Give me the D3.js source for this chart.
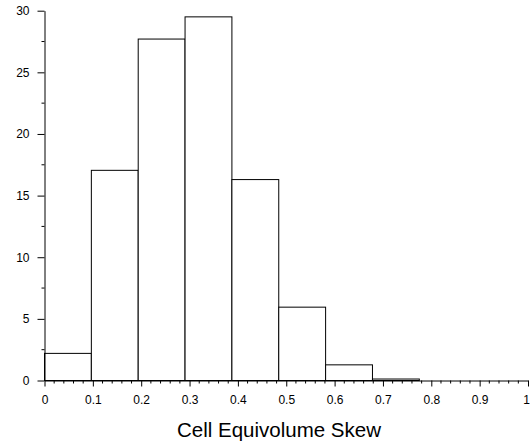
<!DOCTYPE html>
<html>
<head>
<meta charset="utf-8">
<script src="https://d3js.org/d3.v7.min.js"></script>
<style>
  body { margin: 0; background: #fff; }
  text { font-family: "Liberation Sans", Arial, sans-serif; fill: #000; }
</style>
</head>
<body>
<script>
// histogram bins (left/right edges) and counts
var binStart = [0, 0.0969, 0.1938, 0.2907, 0.3876, 0.4845, 0.5814, 0.6783, 0.7752, 0.8721];
var binEnd   = [0.0969, 0.1938, 0.2907, 0.3876, 0.4845, 0.5814, 0.6783, 0.7752, 0.8721, 0.969];
var counts   = [2.2, 17.05, 27.7, 29.5, 16.3, 5.95, 1.27, 0.12, 0, 0];
var xTicks = [0, 0.1, 0.2, 0.3, 0.4, 0.5, 0.6, 0.7, 0.8, 0.9, 1];
var yTicks = [0, 5, 10, 15, 20, 25, 30];
var xLabel = "Cell Equivolume Skew";

var W = 530, H = 445;
var svg = d3.select("body").append("svg")
  .attr("width", W).attr("height", H);

var x = d3.scaleLinear().domain([0, 1]).range([44.5, 528]);
var y = d3.scaleLinear().domain([0, 30]).range([380.5, 10.7]);

// bars
var bins = counts.map(function (c, i) { return { x0: binStart[i], x1: binEnd[i], v: c }; })
  .filter(function (d) { return d.v > 0; });

svg.selectAll("rect.bar")
  .data(bins)
  .enter().append("rect")
  .attr("class", "bar")
  .attr("x", function (d) { return x(d.x0); })
  .attr("width", function (d) { return x(d.x1) - x(d.x0); })
  .attr("y", function (d) { return y(d.v); })
  .attr("height", function (d) { return y(0) - y(d.v); })
  .attr("fill", "#fff")
  .attr("stroke", "#000")
  .attr("stroke-width", 1);

// y axis
var yAxis = svg.append("g")
  .attr("transform", "translate(" + x(0) + ",0)")
  .call(d3.axisLeft(y).tickValues(yTicks).tickSize(7).tickPadding(8).tickSizeOuter(0));
yAxis.append("g").selectAll("line")
  .data(d3.range(2.5, 30, 5))
  .enter().append("line")
  .attr("x1", -3).attr("x2", 0)
  .attr("y1", function (d) { return y(d); }).attr("y2", function (d) { return y(d); })
  .attr("stroke", "#000");

// x axis
var xAxis = svg.append("g")
  .attr("transform", "translate(0," + y(0) + ")")
  .call(d3.axisBottom(x).tickValues(xTicks).tickFormat(d3.format("~g")).tickSize(6).tickPadding(9).tickSizeOuter(0));
xAxis.append("g").selectAll("line")
  .data(d3.range(0, 100, 2).filter(function (d) { return d % 10 !== 0; }).map(function (d) { return d / 100; }))
  .enter().append("line")
  .attr("y1", 0).attr("y2", 3)
  .attr("x1", function (d) { return x(d); }).attr("x2", function (d) { return x(d); })
  .attr("stroke", "#000");
// keep the last label inside the window
xAxis.selectAll(".tick text").filter(function (d) { return d === 1; }).attr("dx", -2);

svg.selectAll(".domain, .tick line").attr("stroke", "#000");
svg.selectAll(".tick text").style("font-size", "12px").style("font-family", "'Liberation Sans', Arial, sans-serif");

svg.append("text")
  .attr("x", 279)
  .attr("y", 437)
  .attr("text-anchor", "middle")
  .style("font-size", "20.5px")
  .text(xLabel);
</script>
</body>
</html>
